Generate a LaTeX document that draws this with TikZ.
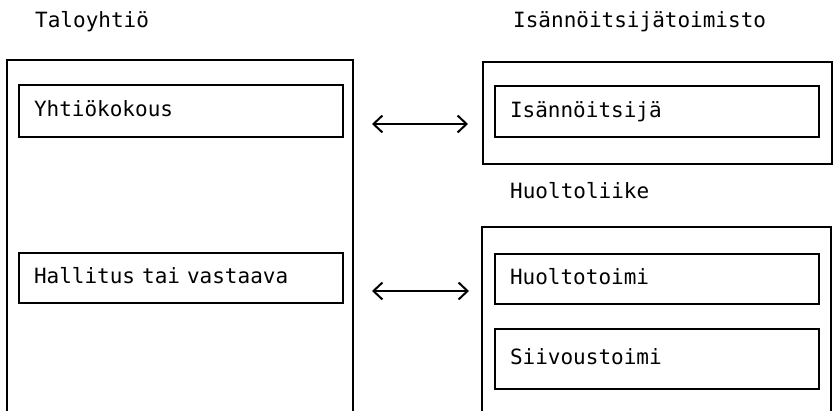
\documentclass[tikz,border=0pt]{standalone}
\usepackage{fontspec}
\setmainfont{DejaVu Sans Mono}
\usetikzlibrary{arrows.meta}
\newcommand{\diafont}{\fontsize{21}{25}\selectfont\spaceskip=12.64pt\relax}
\tikzset{
  ln/.style={line width=2pt, line cap=round, line join=miter},
  inbox/.style={ln, draw, rectangle, anchor=north west, inner xsep=15pt, inner ysep=0pt,
    text width=294pt, align=left, text height=15pt, text depth=4pt,
    font=\diafont},
  outbox/.style={rectangle, anchor=north west, inner sep=0pt},
  lbl/.style={anchor=west, inner sep=0pt, text height=15pt, text depth=4pt,
    font=\diafont},
  conn/.style={ln, {Straight Barb[length=9pt,width=17pt,line width=2pt]}-{Straight Barb[length=9pt,width=17pt,line width=2pt]}}
}
\begin{document}
\begin{tikzpicture}[x=1pt,y=-1pt]
\useasboundingbox (0,0) rectangle (835,410);
% labels
\node[lbl] (lt) at (35,22) {Taloyhtiö};
\node[lbl] (li) at (513,22) {Isännöitsijätoimisto};
\node[lbl] (lh) at (510,193) {Huoltoliike};
% outer boxes
\node[outbox, minimum width=346pt, minimum height=352pt] (talo) at (7,60) {};
\draw[ln] (talo.south west) -- (talo.north west) -- (talo.north east) -- (talo.south east);
\node[outbox, draw, ln, minimum width=349pt, minimum height=102pt] (isto) at (482,61) {};
\node[outbox, minimum width=349pt, minimum height=185pt] (huli) at (482,227) {};
\draw[ln] (huli.south west) -- (huli.north west) -- (huli.north east) -- (huli.south east);
% inner boxes
\node[inbox, minimum height=52pt] (yk) at (18,84) {Yhtiökokous};
\node[inbox, minimum height=50pt] (hal) at (18,252) {Hallitus tai vastaava};
\node[inbox, minimum height=51pt] (is) at (494,85) {Isännöitsijä};
\node[inbox, minimum height=50pt] (ht) at (494,253) {Huoltotoimi};
\node[inbox, minimum height=60pt] (st) at (494,328) {Siivoustoimi};
% connectors
\draw[conn] ([xshift=28pt,yshift=-13pt]yk.east) -- ([xshift=-26pt,yshift=-12.5pt]is.west);
\draw[conn] ([xshift=28pt,yshift=-13pt]hal.east) -- ([xshift=-25pt,yshift=-12pt]ht.west);
\end{tikzpicture}
\end{document}
